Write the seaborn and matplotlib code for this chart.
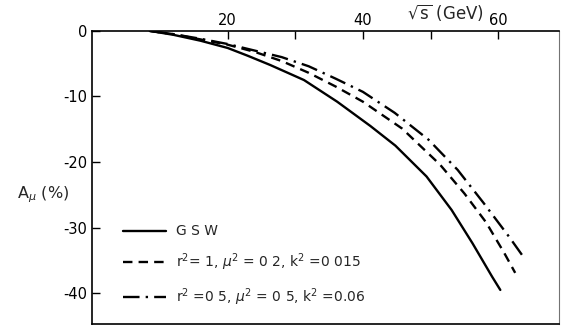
import numpy as np
import pandas as pd
import matplotlib
matplotlib.use("Agg")
import matplotlib.pyplot as plt
import seaborn as sns

# sqrt(s) in GeV, asymmetry in %
s_gsw = [8.5, 12, 16, 20, 23, 26.3, 31.3, 36.2, 41.1, 44.8, 49.4, 53.1, 56.2, 59.1, 60.3]
a_gsw = [0, -0.6, -1.5, -2.6, -3.8, -5.2, -7.5, -10.8, -14.5, -17.5, -22.2, -27.3, -32.4, -37.5, -39.5]

s_r1 = [8.5, 12, 16, 20, 24, 28, 32, 36, 40, 45.8, 51.4, 55, 58.2, 60.9, 62.5]
a_r1 = [0, -0.5, -1.3, -2.1, -3.2, -4.6, -6.4, -8.5, -10.8, -14.9, -20.4, -24.8, -29.2, -33.9, -36.9]

s_r05 = [8.5, 12, 16, 20, 24, 28, 32, 36, 40, 44.7, 49.7, 54, 57.8, 61.6, 63.6]
a_r05 = [0, -0.5, -1.2, -2.0, -3.0, -4.0, -5.4, -7.3, -9.3, -12.5, -16.6, -21.2, -26.2, -31.4, -34.3]

labels = ["G S W",
          "r$^2$= 1, $\\mu^2$ = 0 2, k$^2$ =0 015",
          "r$^2$ =0 5, $\\mu^2$ = 0 5, k$^2$ =0.06"]

x_ticks = [20, 30, 40, 50, 60]
x_tick_labels = ["20", "", "40", "", "60"]
y_ticks = [0, -10, -20, -30, -40]

sns.set_style("ticks")
plt.rcParams['font.family'] = ['DejaVu Sans']
plt.rcParams['mathtext.fontset'] = 'dejavusans'
plt.rcParams['axes.unicode_minus'] = False

fig = plt.figure(figsize=(5.62, 3.32), dpi=100)
ax = fig.add_axes([0.164, 0.024, 0.831, 0.883])

sns.lineplot(x=s_gsw, y=a_gsw, color='black', lw=1.7, label=labels[0], ax=ax)
sns.lineplot(x=s_r1, y=a_r1, color='black', lw=1.7, label=labels[1], ax=ax)
sns.lineplot(x=s_r05, y=a_r05, color='black', lw=1.7, label=labels[2], ax=ax)
ax.lines[1].set_dashes((4.0, 2.6))
ax.lines[2].set_dashes((7.0, 2.6, 1.0, 2.6))

ax.set_xlim(0, 69)
ax.set_ylim(-44.7, 0)

ax.xaxis.tick_top()
ax.set_xticks(x_ticks)
ax.set_xticklabels(x_tick_labels)
ax.set_yticks(y_ticks)
ax.tick_params(axis='both', direction='in', length=6, width=1, labelsize=10.5, colors='black')
ax.tick_params(axis='x', pad=2)

for side in ['left', 'top', 'bottom']:
    ax.spines[side].set_linewidth(1.2)
    ax.spines[side].set_color('black')
ax.spines['right'].set_visible(True)
ax.spines['right'].set_linewidth(0.8)
ax.spines['right'].set_color('0.45')

ax.text(0.757, 1.064, r"$\sqrt{\mathrm{s}}$ $\left(\mathrm{GeV}\right)$", transform=ax.transAxes,
        ha='center', va='center', fontsize=12)
ax.set_ylabel(r"A$_\mu$ (%)", fontsize=11.5, rotation=0, ha='center', va='center')
ax.yaxis.set_label_coords(-0.105, 0.44)

leg = ax.legend(loc='lower left', bbox_to_anchor=(0.04, 0.012), frameon=False,
                fontsize=10, handlelength=3.1, handletextpad=0.7, labelspacing=0.95)

fig.savefig("out.png", dpi=100)
